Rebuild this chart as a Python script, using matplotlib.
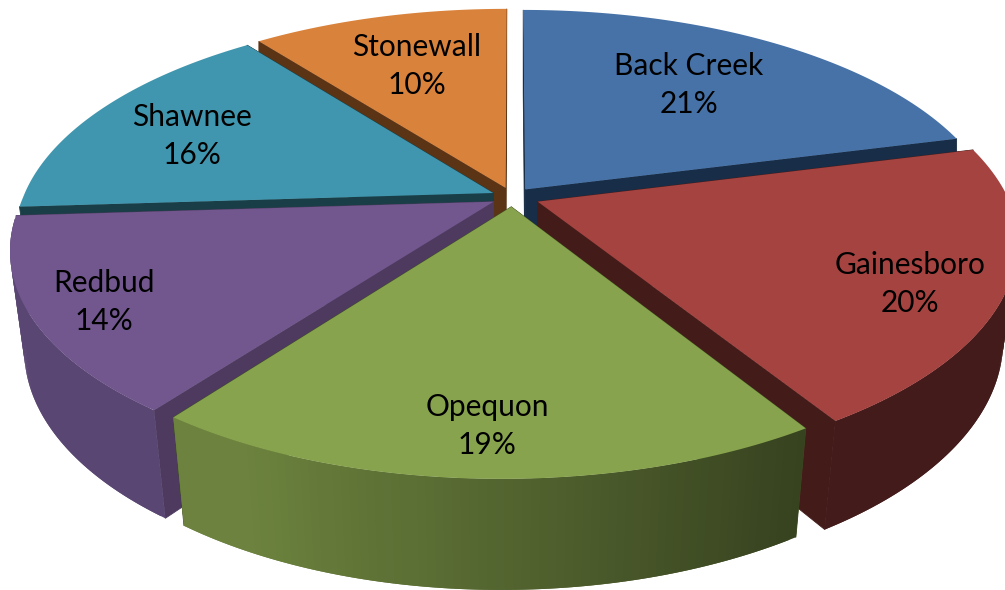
import numpy as np
import matplotlib
matplotlib.use('Agg')
import matplotlib.pyplot as plt
from matplotlib.colors import to_rgb

names = ['Back Creek', 'Gainesboro', 'Opequon', 'Redbud', 'Shawnee', 'Stonewall']
values = [21, 20, 19, 14, 15.55, 10.45]
top_colors = ['#4672A8', '#A54341', '#87A34D', '#71578E', '#4096AE', '#D9823B']
cut_colors = ['#182D47', '#431C1A', '#3E4C22', '#4D3A5E', '#1A3E47', '#5A3415']
explode = [0.045, 0.058, 0.045, 0.045, 0.045, 0.045]
label_x = [689, 910, 487, 104, 192, 417]
label_y = [85, 284, 426, 302, 136, 66]

# projection of the disc (pixels)
CX, CY = 512.4, 197
RADIUS = 470
SQUASH = 0.46
PERSP = 0.19
DEPTH = 100
DEPTH_PERSP = 0.028
FRONT_SKEW = 10

# back to front
draw_order = [5, 0, 4, 3, 1, 2]


def project(u, v, bottom=False):
    w = 1 + PERSP * v
    drop = 0
    if bottom:
        w = w + DEPTH_PERSP * np.clip((0.1 - v) / 0.1, 0, 1)
        drop = DEPTH
    x = CX + RADIUS * u / w + FRONT_SKEW * np.minimum(v, 0)
    return x, CY + (drop - RADIUS * SQUASH * v) / w


def shade(color, u):
    f = np.clip(0.62 - 0.4 * u, 0.4, 0.8)
    return tuple(c * f for c in to_rgb(color))


def draw_wedge(ax, a0, a1, top_color, cut_color, expl):
    mid = (a0 + a1) / 2
    ou, ov = expl * np.sin(mid), expl * np.cos(mid)
    ang = np.linspace(a0, a1, 80)
    us = ou + np.sin(ang)
    vs = ov + np.cos(ang)
    tx, ty = project(us, vs)
    bx, by = project(us, vs, bottom=True)
    ax_t, ay_t = project(ou, ov)
    ax_b, ay_b = project(ou, ov, bottom=True)

    # cut faces
    for i in (0, -1):
        ax.fill([ax_t, tx[i], bx[i], ax_b], [ay_t, ty[i], by[i], ay_b],
                color=cut_color, lw=0.6)
    # outer wall, only the part facing the viewer; strips overlap to hide seams
    front = np.where(np.cos(ang) <= -0.07)[0]
    if len(front) > 1:
        n = len(front)
        for j in range(n - 1):
            i0, i1 = front[j], front[min(j + 2, n - 1)]
            c = shade(top_color, us[i0])
            ax.fill([tx[i0], tx[i1], bx[i1], bx[i0]],
                    [ty[i0], ty[i1], by[i1], by[i0]], color=c, lw=0)
    # top
    ax.fill(np.r_[ax_t, tx], np.r_[ay_t, ty], color=top_color, lw=0)


fig = plt.figure(figsize=(10.05, 5.90), dpi=100)
ax = fig.add_axes([0, 0, 1, 1])
ax.set_xlim(0, 1005)
ax.set_ylim(590, 0)
ax.axis('off')

edges = np.r_[0, np.cumsum(values)] / sum(values) * 2 * np.pi
for idx in draw_order:
    draw_wedge(ax, edges[idx], edges[idx + 1], top_colors[idx], cut_colors[idx], explode[idx])

for idx in range(len(names)):
    ax.text(label_x[idx], label_y[idx], f'{names[idx]}\n{values[idx]:.0f}%', ha='center', va='center',
            family='Lato', fontsize=21.5, color='black', linespacing=1.47)

fig.savefig('out.png', dpi=100)
